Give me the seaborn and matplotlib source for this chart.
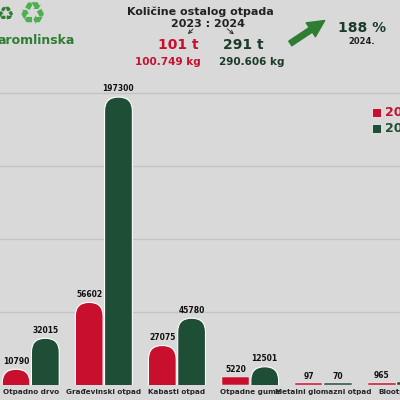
import matplotlib
matplotlib.use("Agg")
import matplotlib.pyplot as plt
import seaborn as sns
import pandas as pd
from matplotlib.patches import FancyBboxPatch, Rectangle

categories = ["Otpadno drvo", "Građevinski otpad", "Kabasti otpad", "Otpadne gume", "Metalni glomazni otpad", "Biootpad"]
v2023 = [10790, 56602, 27075, 5220, 97, 965]
v2024 = [32015, 197300, 45780, 12501, 70, 2100]
years = ["2023", "2024"]
RED, GREEN, BG = "#c8102e", "#1f4e36", "#d9d9d9"

df = pd.DataFrame({"cat": categories * 2, "val": v2023 + v2024,
                   "year": [years[0]] * 6 + [years[1]] * 6})

sns.set_theme(style="white")
plt.rcParams['font.family'] = ['DejaVu Sans']
fig = plt.figure(figsize=(4, 4), dpi=100, facecolor=BG)
ax = fig.add_axes([0, 15/400, 1, 305/400])
ax.set_facecolor(BG)
sns.barplot(data=df, x="cat", y="val", hue="year", palette=[RED, GREEN], saturation=1,
            width=0.8, gap=0.05, ax=ax, legend=False)
ax.set_xlim(-0.42, 5.05)
ax.set_ylim(0, 209000)
ax.set_yticks([50000, 100000, 150000, 200000])
ax.grid(axis="y", color="#c4c4c4", lw=1)
ax.set_axisbelow(True)
for s in ax.spines.values():
    s.set_visible(False)
ax.set_xlabel(""); ax.set_ylabel("")
ax.set_yticklabels([])
ax.tick_params(axis="x", length=0, pad=3, labelsize=5.2)
for lab in ax.get_xticklabels():
    lab.set_fontweight("bold")

asp = 50000.0
for p in list(ax.patches):
    x, w, h = p.get_x(), p.get_width(), p.get_height()
    if h <= 0:
        continue
    col = p.get_facecolor()
    p.set_visible(False)
    r = w / 2
    rh = r * asp
    if h > rh:
        ax.add_patch(FancyBboxPatch((x, -rh), w, h + rh,
                     boxstyle=f"round,pad=0,rounding_size={r}",
                     mutation_aspect=asp, fc=col, ec="white", lw=0.8, zorder=3))
    else:
        ax.add_patch(Rectangle((x, 0), w, max(h, 1200), fc=col, ec="white", lw=0.3, zorder=3))
    ax.text(x + w / 2, h + 2500, f"{int(h)}", ha="center", va="bottom",
            fontsize=5.5, fontweight="bold", color="#111", zorder=4, clip_on=True)

# legend (cut off at right edge)
fig.patches.append(Rectangle((372/400, 1 - 117/400), 9/400, 9/400, transform=fig.transFigure, fc=RED, ec="white", lw=0.5))
fig.patches.append(Rectangle((372/400, 1 - 133/400), 9/400, 9/400, transform=fig.transFigure, fc=GREEN, ec="white", lw=0.5))
fig.text(385/400, 1 - 112/400, years[0], color=RED, fontsize=9, fontweight="bold", va="center")
fig.text(385/400, 1 - 128/400, years[1], color=GREEN, fontsize=9, fontweight="bold", va="center")

# header
fig.text(200/400, 1 - 12/400, "Količine ostalog otpada", ha="center", va="center", fontsize=8, fontweight="bold", color="#222")
fig.text(208/400, 1 - 24/400, "2023 : 2024", ha="center", va="center", fontsize=8, fontweight="bold", color="#222")
fig.text(178/400, 1 - 45/400, "101 t", ha="center", va="center", fontsize=10, fontweight="bold", color=RED)
fig.text(243/400, 1 - 45/400, "291 t", ha="center", va="center", fontsize=10, fontweight="bold", color="#1c3a2a")
fig.text(168/400, 1 - 62/400, "100.749 kg", ha="center", va="center", fontsize=7.5, fontweight="bold", color=RED)
fig.text(252/400, 1 - 62/400, "290.606 kg", ha="center", va="center", fontsize=7.5, fontweight="bold", color="#1c3a2a")
fig.text(362/400, 1 - 28/400, "188 %", ha="center", va="center", fontsize=10, fontweight="bold", color="#1c3a2a")
fig.text(362/400, 1 - 42/400, "2024.", ha="center", va="center", fontsize=6, fontweight="bold", color="#222")
fig.text(-3/400, 1 - 40/400, "aromlinska", ha="left", va="center", fontsize=9, fontweight="bold", color="#2e7d32")
fig.text(5/400, 1 - 14/400, "♻", ha="center", va="center", fontsize=14, color="#2e7d32")
fig.text(32/400, 1 - 16/400, "♻", ha="center", va="center", fontsize=22, color="#4caf50")
for (x0, y0, x1, y1) in [(195, 27, 186, 36), (225, 27, 236, 36)]:
    fig.add_artist(matplotlib.patches.FancyArrowPatch((x0/400, 1-y0/400), (x1/400, 1-y1/400),
                   transform=fig.transFigure, arrowstyle="->", mutation_scale=6, lw=0.6, color="#222"))
fig.add_artist(matplotlib.patches.FancyArrowPatch((288/400, 1-45/400), (327/400, 1-19/400),
               transform=fig.transFigure, arrowstyle="simple,head_width=1.2,head_length=1.2,tail_width=0.4",
               mutation_scale=10, color="#2e7d32"))

fig.savefig("out.png", dpi=100, facecolor=BG)
